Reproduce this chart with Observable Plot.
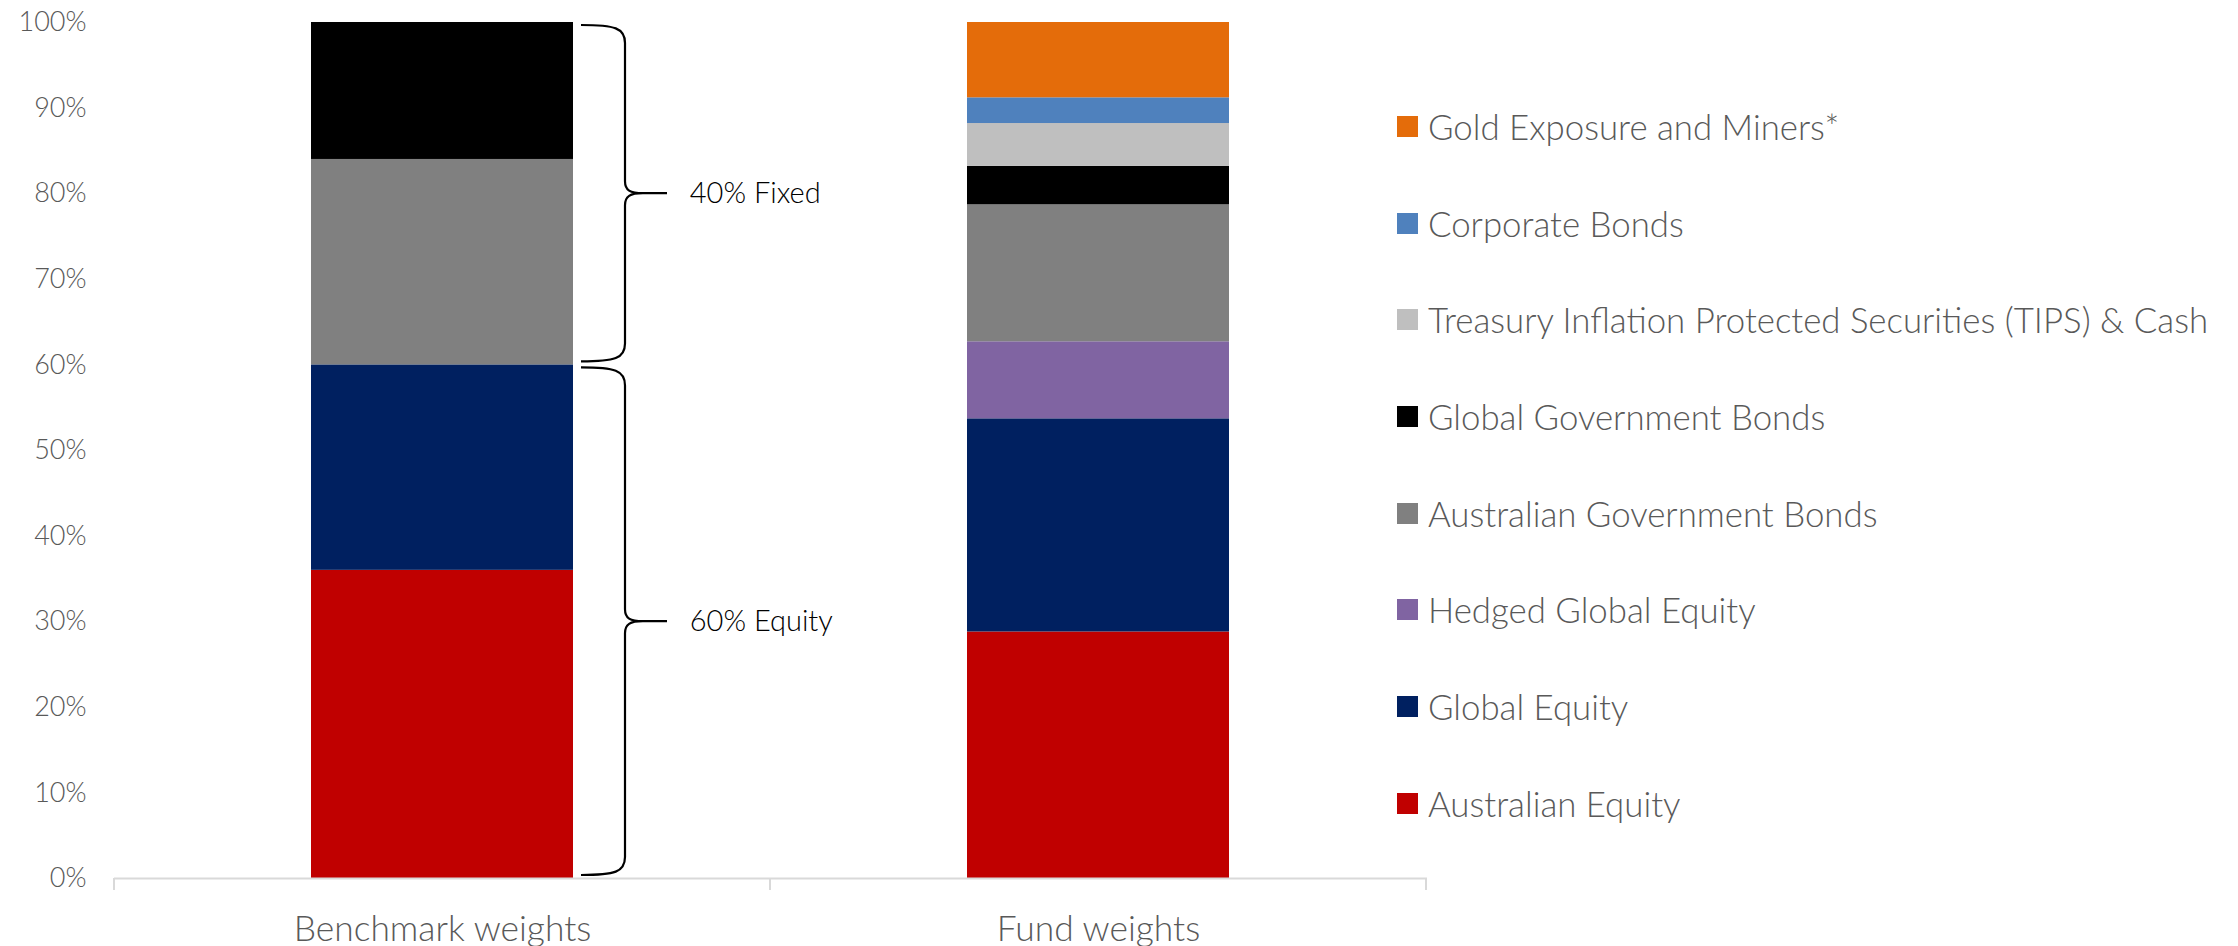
<!DOCTYPE html>
<html>
<head>
<meta charset="utf-8">
<script src="https://cdn.jsdelivr.net/npm/d3@7"></script>
<script src="https://cdn.jsdelivr.net/npm/@observablehq/plot@0.6"></script>
<style>
  body { margin: 0; background: #fff; }
  #chart { position: relative; width: 2238px; height: 946px; font-family: Lato, "Open Sans", sans-serif; }
  #chart svg { position: absolute; left: 0; top: 0; }
  #legend { position: absolute; left: 1397px; top: 78px; }
  #legend .row { display: flex; align-items: center; height: 96.7px; white-space: nowrap; }
  #legend .sw { width: 21px; height: 21px; margin-right: 10px; flex: none; }
  #legend .lab { font-size: 34.8px; font-weight: 300; color: #595959; }
</style>
</head>
<body>
<div id="chart"><div id="legend"></div></div>
<script>
// Portfolios shown as stacked columns
const portfolios = ["Benchmark weights", "Fund weights"];

// Asset classes, stacked bottom to top
const assetClasses = [
  "Australian Equity",
  "Global Equity",
  "Hedged Global Equity",
  "Australian Government Bonds",
  "Global Government Bonds",
  "Treasury Inflation Protected Securities (TIPS) & Cash",
  "Corporate Bonds",
  "Gold Exposure and Miners*"
];
const assetColors = ["#C00000", "#002060", "#8064A2", "#808080", "#000000", "#BFBFBF", "#4F81BD", "#E46C0A"];

// Weights (%) per asset class, same order as assetClasses
const benchmarkWeights = [36, 24, 0, 24, 16, 0, 0, 0];
const fundWeights = [28.8, 24.9, 9, 16, 4.5, 5, 3, 8.8];

// Y axis ticks (%)
const yTicks = [0, 10, 20, 30, 40, 50, 60, 70, 80, 90, 100];

// Bracket annotations beside the benchmark column
const bracketColumn = "Benchmark weights";
const bracketLabels = ["40% Fixed", "60% Equity"];
const bracketFrom = [60, 0];
const bracketTo = [100, 60];

// Build the long-format table
const weightsByPortfolio = [benchmarkWeights, fundWeights];
const rows = [];
portfolios.forEach((p, i) => {
  assetClasses.forEach((a, j) => {
    const w = weightsByPortfolio[i][j];
    if (w > 0) rows.push({portfolio: p, asset: a, weight: w});
  });
});
const brackets = bracketLabels.map((label, i) => ({label, from: bracketFrom[i], to: bracketTo[i]}));

const W = 2238, H = 946;
const margin = {left: 114, right: 811, top: 22, bottom: 68};
const paddingInner = 0.6, paddingOuter = 0.3;
// band geometry, used to place annotation text beside the benchmark column
const step = (W - margin.left - margin.right) / (portfolios.length - paddingInner + 2 * paddingOuter);
const bandwidth = step * (1 - paddingInner);

// Dividing ticks under the axis and the curly brackets
function decorations(index, scales) {
  const x = scales.x, y = scales.y;
  const bw = x.bandwidth ? x.bandwidth() : bandwidth;
  const st = portfolios.length > 1 ? x(portfolios[1]) - x(portfolios[0]) : step;
  const gap = st - bw;
  const g = d3.create("svg:g");
  const y0 = y(0);
  const divX = portfolios.map(p => x(p) - gap / 2);
  divX.push(x(portfolios[portfolios.length - 1]) + bw + gap / 2);
  g.selectAll("line.div").data(divX).join("line")
    .attr("x1", d => d).attr("x2", d => d)
    .attr("y1", y0).attr("y2", y0 + 12)
    .attr("stroke", "#d9d9d9").attr("stroke-width", 2);

  const bx = x(bracketColumn) + bw;
  const X0 = bx + 8, X1 = bx + 52, X2 = bx + 94;
  for (const b of brackets) {
    const yt = y(b.to) + 3, yb = y(b.from) - 3, ym = (yt + yb) / 2;
    const r = 18, r2 = 12;
    const p = d3.path();
    p.moveTo(X0, yt);
    p.bezierCurveTo(X1 - 10, yt, X1, yt + 3, X1, yt + r);
    p.lineTo(X1, ym - r2);
    p.bezierCurveTo(X1, ym - 3, X1 + 5, ym, X1 + 18, ym);
    p.lineTo(X2, ym);
    p.moveTo(X1 + 18, ym);
    p.bezierCurveTo(X1 + 5, ym, X1, ym + 3, X1, ym + r2);
    p.lineTo(X1, yb - r);
    p.bezierCurveTo(X1, yb - 3, X1 - 10, yb, X0, yb);
    g.append("path").attr("d", p.toString())
      .attr("fill", "none").attr("stroke", "#000").attr("stroke-width", 2.2);
  }
  return g.node();
}

const plot = Plot.plot({
  width: W,
  height: H,
  marginLeft: margin.left,
  marginRight: margin.right,
  marginTop: margin.top,
  marginBottom: margin.bottom,
  style: {fontFamily: "Lato, 'Open Sans', sans-serif", background: "transparent", overflow: "visible"},
  x: {domain: portfolios, paddingInner, paddingOuter, label: null},
  y: {domain: [0, 100], label: null},
  color: {domain: assetClasses, range: assetColors},
  marks: [
    Plot.barY(rows, {x: "portfolio", y: "weight", fill: "asset", order: assetClasses}),
    Plot.ruleY([0], {stroke: "#d9d9d9", strokeWidth: 2}),
    Plot.axisY({ticks: yTicks, tickSize: 0, tickPadding: 28, tickFormat: d => d + "%",
      fontSize: 27, fontWeight: 300, color: "#595959", label: null}),
    Plot.axisX({tickSize: 0, tickPadding: 37, fontSize: 35.4, fontWeight: 300, color: "#595959", label: null}),
    decorations,
    Plot.text(brackets, {x: () => bracketColumn, y: d => (d.from + d.to) / 2, text: "label",
      textAnchor: "start", dx: bandwidth / 2 + 116, fontSize: 29, fontWeight: 300, fill: "#000"})
  ]
});

const chart = document.getElementById("chart");
chart.insertBefore(plot, chart.firstChild);

// Legend, top entry first
const legend = d3.select("#legend");
assetClasses.slice().reverse().forEach(a => {
  const row = legend.append("div").attr("class", "row");
  row.append("div").attr("class", "sw").style("background", assetColors[assetClasses.indexOf(a)]);
  row.append("div").attr("class", "lab").text(a);
});
</script>
</body>
</html>
